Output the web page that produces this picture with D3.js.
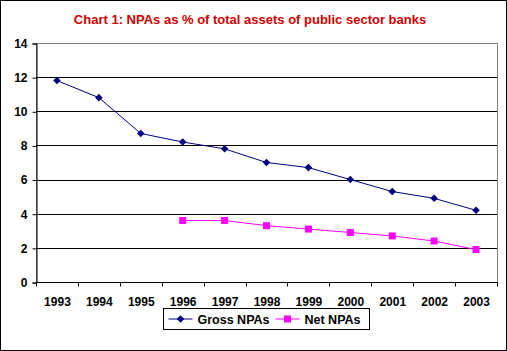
<!DOCTYPE html>
<html>
<head>
<meta charset="utf-8">
<script src="https://cdn.jsdelivr.net/npm/d3@7"></script>
<style>
  body { margin: 0; background: #fff; }
  svg text { font-family: "Liberation Sans", Arial, sans-serif; font-weight: bold; }
</style>
</head>
<body>
<svg id="chart"></svg>
<script>
/* DATA */
const years = ["1993", "1994", "1995", "1996", "1997", "1998", "1999", "2000", "2001", "2002", "2003"];
const grossNPAs = [11.8, 10.8, 8.7, 8.2, 7.8, 7.0, 6.7, 6.0, 5.3, 4.9, 4.2];
const netNPAs = [null, null, null, 3.6, 3.6, 3.3, 3.1, 2.9, 2.7, 2.4, 1.9];
const yTicks = [0, 2, 4, 6, 8, 10, 12, 14];

/* CONSTANTS */
const width = 507,
  height = 351,
  margin = { top: 43, bottom: 69, left: 36, right: 10 };

const svg = d3.select("#chart")
  .attr("width", width)
  .attr("height", height);

// outer frame
svg.append("rect")
  .attr("x", 0.5).attr("y", 0.5)
  .attr("width", width - 1).attr("height", height - 1)
  .attr("fill", "#fff")
  .attr("stroke", "#000");

// + SCALES
const xScale = d3.scaleBand()
  .domain(years)
  .range([margin.left, width - margin.right]);

const yScale = d3.scaleLinear()
  .domain([0, 14])
  .range([height - margin.bottom, margin.top]);

// plot area border (gray)
svg.append("rect")
  .attr("x", margin.left + 0.5)
  .attr("y", margin.top + 0.5)
  .attr("width", width - margin.right - margin.left)
  .attr("height", height - margin.bottom - margin.top)
  .attr("fill", "#fff")
  .attr("stroke", "#808080");

// gridlines
svg.selectAll(".grid")
  .data(yTicks.filter(d => d > 0 && d < 14))
  .join("line")
  .attr("class", "grid")
  .attr("x1", margin.left)
  .attr("x2", width - margin.right)
  .attr("y1", d => Math.round(yScale(d)) + 0.5)
  .attr("y2", d => Math.round(yScale(d)) + 0.5)
  .attr("stroke", "#000");

// + AXES
const yAxis = svg.append("g")
  .attr("transform", `translate(${margin.left + 0.5}, 0.5)`)
  .call(d3.axisLeft(yScale).tickValues(yTicks).tickSize(4).tickPadding(5).tickFormat(d3.format("d")));

const xAxis = svg.append("g")
  .attr("transform", `translate(0.5, ${Math.round(height - margin.bottom) + 0.5})`)
  .call(d3.axisBottom(xScale).tickSize(0).tickPadding(15));

// category ticks on band edges
xAxis.selectAll(".edge")
  .data(years.map(d => xScale(d)).concat([width - margin.right]))
  .join("line")
  .attr("class", "edge")
  .attr("x1", d => Math.round(d))
  .attr("x2", d => Math.round(d))
  .attr("y1", 0)
  .attr("y2", 4)
  .attr("stroke", "#000");

[yAxis, xAxis].forEach(g => {
  g.select(".domain").attr("stroke", "#000");
  g.selectAll(".tick line").attr("stroke", "#000");
  g.selectAll("text")
    .attr("fill", "#000")
    .style("font-size", "12px")
    .style("font-family", "'Liberation Sans', Arial, sans-serif")
    .style("font-weight", "bold");
});
xAxis.select(".domain").attr("d", `M${margin.left},0H${width - margin.right}`);

// title
svg.append("text")
  .attr("x", 250)
  .attr("y", 24)
  .attr("text-anchor", "middle")
  .attr("fill", "#d00000")
  .style("font-size", "13px")
  .text("Chart 1: NPAs as % of total assets of public sector banks");

// + LINES
const cx = d => xScale(d) + xScale.bandwidth() / 2;

const lineGen = d3.line()
  .defined(d => d.v != null)
  .x(d => cx(d.year))
  .y(d => yScale(d.v));

const grossData = years.map((y, i) => ({ year: y, v: grossNPAs[i] }));
const netData = years.map((y, i) => ({ year: y, v: netNPAs[i] }));

svg.append("path")
  .datum(grossData)
  .attr("fill", "none")
  .attr("stroke", "#000080")
  .attr("stroke-width", 1)
  .attr("d", lineGen);

svg.append("path")
  .datum(netData)
  .attr("fill", "none")
  .attr("stroke", "#ff00ff")
  .attr("stroke-width", 1)
  .attr("d", lineGen);

const diamond = d3.symbol().type(d3.symbolDiamond2).size(36);

svg.selectAll(".gross-pt")
  .data(grossData)
  .join("path")
  .attr("class", "gross-pt")
  .attr("transform", d => `translate(${cx(d.year)}, ${yScale(d.v)})`)
  .attr("d", diamond)
  .attr("fill", "#000080");

svg.selectAll(".net-pt")
  .data(netData.filter(d => d.v != null))
  .join("rect")
  .attr("class", "net-pt")
  .attr("x", d => cx(d.year) - 3.5)
  .attr("y", d => yScale(d.v) - 3.5)
  .attr("width", 7)
  .attr("height", 7)
  .attr("fill", "#ff00ff");

// + LEGEND
const legend = svg.append("g").attr("transform", "translate(163.5, 308.5)");
legend.append("rect")
  .attr("width", 206).attr("height", 21)
  .attr("fill", "#fff").attr("stroke", "#000");

const items = [
  { label: "Gross NPAs", color: "#000080", x: 5, shape: "diamond" },
  { label: "Net NPAs", color: "#ff00ff", x: 112, shape: "square" }
];
items.forEach(it => {
  const g = legend.append("g").attr("transform", `translate(${it.x}, 10.5)`);
  g.append("line").attr("x1", 0).attr("x2", 24).attr("stroke", it.color);
  if (it.shape === "diamond") {
    g.append("path").attr("transform", "translate(12,0)").attr("d", diamond).attr("fill", it.color);
  } else {
    g.append("rect").attr("x", 8.5).attr("y", -3.5).attr("width", 7).attr("height", 7).attr("fill", it.color);
  }
  g.append("text")
    .attr("x", 29).attr("y", 4.5)
    .style("font-size", "12.5px")
    .attr("fill", "#000")
    .text(it.label);
});
</script>
</body>
</html>
